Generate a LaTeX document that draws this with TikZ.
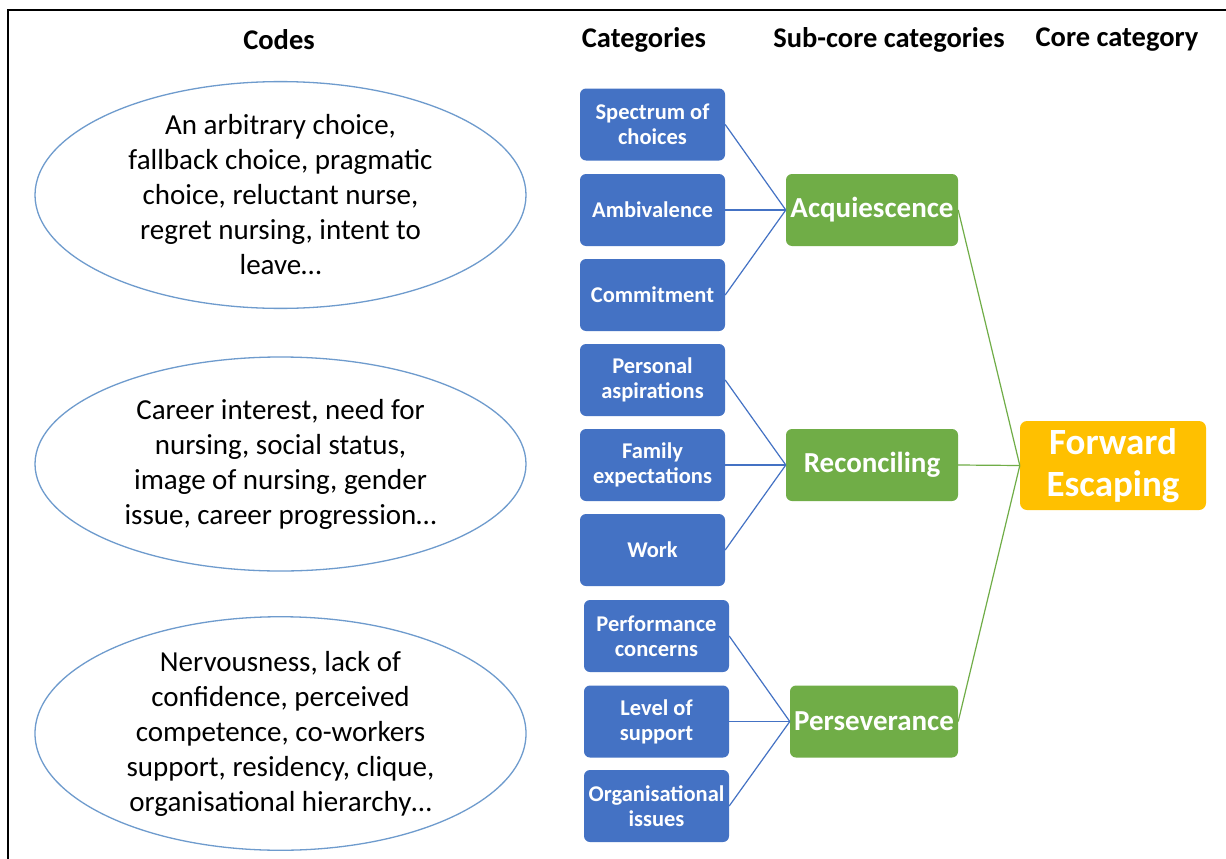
\documentclass[tikz,border=0pt]{standalone}
\usepackage{fontspec}
\setmainfont{Carlito}
\usetikzlibrary{shapes.geometric}

\definecolor{catblue}{HTML}{4472C4}
\definecolor{subgreen}{HTML}{70AD47}
\definecolor{coreorange}{HTML}{FFC000}
\definecolor{ovalline}{RGB}{110,155,205}

\tikzset{
  heading/.style={font=\fontsize{28.5}{32}\selectfont\bfseries, anchor=center},
  codeoval/.style={ellipse, draw=ovalline, line width=1.3pt, inner sep=0pt,
    minimum width=491pt, minimum height=214pt, align=center,
    font=\fontsize{29}{35}\selectfont},
  catbox/.style={rectangle, rounded corners=6pt, fill=catblue, text=white,
    minimum width=145pt, minimum height=72pt, inner sep=0pt, align=center,
    font=\fontsize{22.5}{25}\selectfont\bfseries},
  subbox/.style={rectangle, rounded corners=6pt, fill=subgreen, text=white,
    minimum width=172pt, minimum height=72pt, inner sep=0pt, align=center,
    font=\fontsize{29}{32}\selectfont\bfseries},
  corebox/.style={rectangle, rounded corners=7pt, fill=coreorange, text=white,
    minimum width=186pt, minimum height=89pt, inner sep=0pt, align=center,
    font=\fontsize{37}{42}\selectfont\bfseries},
  blueline/.style={draw=catblue, line width=1.2pt},
  greenline/.style={draw=subgreen, line width=1.2pt}
}

\begin{document}
\begin{tikzpicture}[x=1pt, y=-1pt]
  \useasboundingbox (0,0) rectangle (1226,859);
  \fill[white] (0,0) rectangle (1226,859);

  % outer frame (only top and left edges fall inside the page)
  \draw[line width=2pt] (8,870) -- (8,10) -- (1240,10);

  % column headings
  \node[heading] (hcodes) at (279,40) {Codes};
  \node[heading] (hcat) at (644,40) {Categories};
  \node[heading] (hsub) at (889,40) {Sub-core categories};
  \node[heading] (hcore) at (1117,40) {Core category};

  % code ovals
  \node[codeoval] (c1) at (280.5,195) {An arbitrary choice,\\fallback choice, pragmatic\\choice, reluctant nurse,\\regret nursing, intent to\\leave…};
  \node[codeoval] (c2) at (280.5,464) {Career interest, need for\\nursing, social status,\\image of nursing, gender\\issue, career progression…};
  \node[codeoval] (c3) at (280.5,733.5) {Nervousness, lack of\\confidence, perceived\\competence, co-workers\\support, residency, clique,\\organisational hierarchy…};

  % categories
  \node[catbox] (k1) at (652.5,124.5) {Spectrum of\\choices};
  \node[catbox] (k2) at (652.5,210) {Ambivalence};
  \node[catbox] (k3) at (652.5,295) {Commitment};
  \node[catbox] (k4) at (652.5,380) {Personal\\aspirations};
  \node[catbox] (k5) at (652.5,465) {Family\\expectations};
  \node[catbox] (k6) at (652.5,550) {Work};
  \node[catbox] (k7) at (656.5,636) {Performance\\concerns};
  \node[catbox] (k8) at (656.5,721.5) {Level of\\support};
  \node[catbox] (k9) at (656.5,806) {Organisational\\issues};

  % sub-core categories
  \node[subbox] (s1) at (872,210) {Acquiescence};
  \node[subbox] (s2) at (872,465) {Reconciling};
  \node[subbox, minimum width=168pt] (s3) at (874,721.5) {Perseverance};

  % core category
  \node[corebox] (core) at (1113,465.5) {Forward\\Escaping};

  % category -> sub-core links
  \foreach \k in {k1,k2,k3} \draw[blueline] (\k.east) -- (s1.west);
  \foreach \k in {k4,k5,k6} \draw[blueline] (\k.east) -- (s2.west);
  \foreach \k in {k7,k8,k9} \draw[blueline] (\k.east) -- (s3.west);

  % sub-core -> core links
  \foreach \s in {s1,s2,s3} \draw[greenline] (\s.east) -- (core.west);
\end{tikzpicture}
\end{document}
